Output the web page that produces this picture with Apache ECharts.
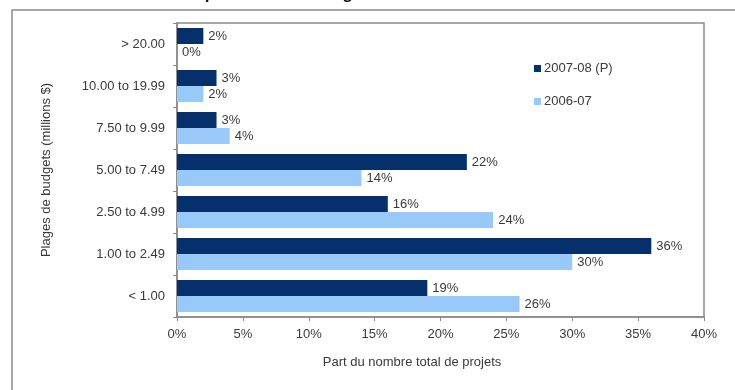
<!DOCTYPE html>
<html>
<head>
<meta charset="utf-8">
<script src="https://cdn.jsdelivr.net/npm/echarts@6/dist/echarts.min.js"></script>
<style>
  html, body { margin: 0; padding: 0; background: #fff; }
  #chart { width: 735px; height: 390px; }
</style>
</head>
<body>
<div id="chart"></div>
<script>
// Budget ranges, top to bottom
const categories = ["> 20.00", "10.00 to 19.99", "7.50 to 9.99", "5.00 to 7.49", "2.50 to 4.99", "1.00 to 2.49", "< 1.00"];
// Share of projects (%) per budget range
const share200708 = [2, 3, 3, 22, 16, 36, 19];
const share200607 = [0, 2, 4, 14, 24, 30, 26];
const seriesNames = ["2007-08 (P)", "2006-07"];
const xTicks = { min: 0, max: 40, step: 5 };

const FONT = "'Liberation Sans', Arial, sans-serif";
const TEXT = "#3a3a3a";
const FRAME = "#8a8a8a";

const chart = echarts.init(document.getElementById("chart"));

const labelOpt = {
  show: true,
  position: "right",
  distance: 5,
  formatter: p => p.value + "%",
  color: TEXT,
  fontFamily: FONT,
  fontSize: 13
};

chart.setOption({
  animation: false,
  backgroundColor: "#fff",
  textStyle: { fontFamily: FONT },
  graphic: [
    {
      type: "rect",
      shape: { x: 12, y: 10, width: 760, height: 420 },
      style: { fill: "none", stroke: FRAME, lineWidth: 1.5 },
      silent: true
    },
    {
      type: "text",
      left: 183,
      top: -14,
      style: {
        text: "Répartition des budgets",
        font: "bold 17px " + FONT,
        fill: "#111"
      }
    },
    {
      type: "text",
      x: 412,
      y: 362,
      style: {
        text: "Part du nombre total de projets",
        align: "center",
        verticalAlign: "middle",
        font: "13px " + FONT,
        fill: TEXT
      }
    }
  ],
  grid: {
    left: 177, top: 23, width: 527, height: 294,
    show: true, borderColor: FRAME, borderWidth: 1.5,
    backgroundColor: "transparent"
  },
  legend: {
    orient: "vertical",
    left: 529, top: 57,
    itemWidth: 7, itemHeight: 7, itemGap: 20,
    itemStyle: { borderWidth: 0 },
    icon: "rect",
    textStyle: { color: TEXT, fontFamily: FONT, fontSize: 13, padding: [0, 0, 0, -2] },
    data: seriesNames
  },
  xAxis: {
    type: "value",
    min: xTicks.min, max: xTicks.max, interval: xTicks.step,
    axisLine: { show: true, lineStyle: { color: FRAME, width: 1.5 } },
    axisTick: { show: true, length: 4, lineStyle: { color: FRAME } },
    axisLabel: { formatter: "{value}%", color: TEXT, fontSize: 13, margin: 11 },
    splitLine: { show: false }
  },
  yAxis: {
    type: "category",
    inverse: true,
    data: categories,
    name: "Plages de budgets (millions $)",
    nameLocation: "middle",
    nameGap: 124,
    nameTextStyle: { color: TEXT, fontSize: 13 },
    axisLine: { show: true, lineStyle: { color: FRAME, width: 1.5 } },
    axisTick: { show: true, length: 4, lineStyle: { color: FRAME } },
    axisLabel: { color: TEXT, fontSize: 13, margin: 12 }
  },
  series: [
    {
      name: seriesNames[0],
      type: "bar",
      data: share200708,
      barWidth: 16,
      barGap: "0%",
      itemStyle: { color: "#06306b" },
      label: labelOpt
    },
    {
      name: seriesNames[1],
      type: "bar",
      data: share200607,
      barWidth: 16,
      barGap: "0%",
      itemStyle: { color: "#99c9f8" },
      label: labelOpt
    }
  ]
});
</script>
</body>
</html>
